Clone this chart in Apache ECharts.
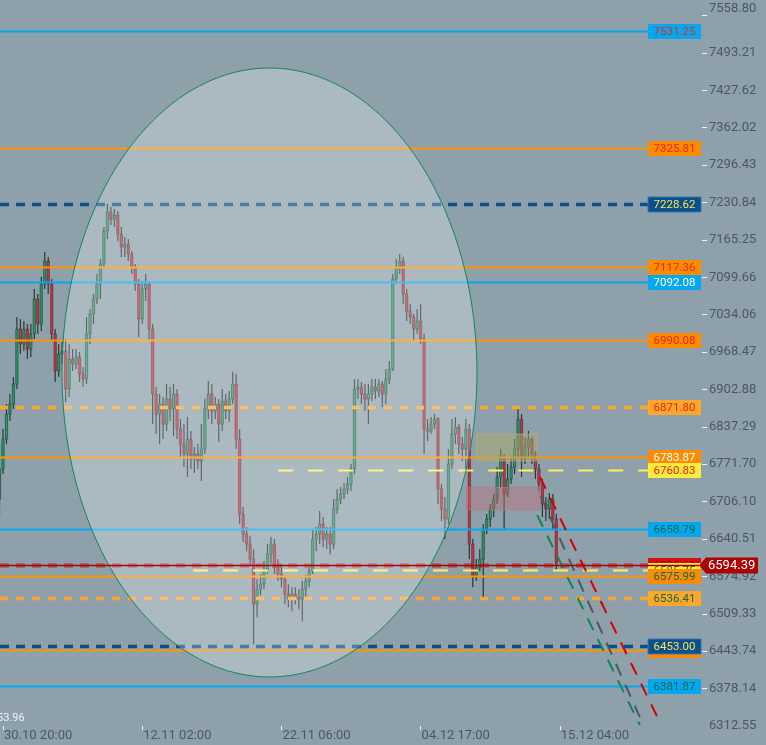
<!DOCTYPE html>
<html><head><meta charset="utf-8">
<script src="https://cdn.jsdelivr.net/npm/echarts@6/dist/echarts.min.js"></script>
<style>html,body{margin:0;padding:0;background:#8ea1aa;}#c{width:766px;height:745px;}</style>
</head><body><div id="c"></div>
<script>
// ---------- data ----------
const xLabelIdx = [1, 41, 81, 121, 161];
const xLabelText = ['30.10 20:00', '12.11 02:00', '22.11 06:00', '04.12 17:00', '15.12 04:00'];
const yTicks = [7558.80, 7493.21, 7427.62, 7362.02, 7296.43, 7230.84, 7165.25, 7099.66, 7034.06, 6968.47,
  6902.88, 6837.29, 6771.70, 6706.10, 6640.51, 6574.92, 6509.33, 6443.74, 6378.14, 6312.55];

// [open, close, low, high]
const ohlc = [
[6710.6,6763.2,6680.7,6807.1],[6763.2,6815.8,6754.4,6833.4],[6815.8,6859.7,6807.1,6877.3],[6859.7,6877.3,6847.4,6894.8],
[6877.3,6912.3,6868.5,6924.6],[6912.3,7008.8,6903.6,7029.9],[7008.8,6982.5,6965.0,7026.4],[6982.5,7008.8,6970.2,7022.9],
[7008.8,6973.8,6956.2,7017.6],[6973.8,7000.1,6959.7,7017.6],[7000.1,7061.5,6991.3,7079.0],[7061.5,7017.6,7000.1,7070.3],
[7017.6,7087.8,7005.3,7100.1],[7087.8,7128.2,7079.0,7144.0],[7128.2,7087.8,7070.3,7135.2],[7087.8,7000.1,6987.8,7096.6],
[7000.1,6935.2,6915.9,7008.8],[6935.2,6965.0,6924.6,6982.5],[6965.0,6970.2,6947.4,6986.0],[6970.2,6903.6,6880.8,6991.3],
[6903.6,6956.2,6889.5,6982.5],[6956.2,6947.4,6935.2,6973.8],[6947.4,6959.7,6938.7,6973.8],[6959.7,6929.9,6915.9,6968.5],
[6929.9,6921.1,6907.1,6942.2],[6921.1,7000.1,6912.3,7029.9],[7000.1,7035.2,6982.5,7043.9],[7035.2,7061.5,7017.6,7070.3],
[7061.5,7087.8,7052.7,7105.4],[7087.8,7122.9,7061.5,7131.7],[7122.9,7180.8,7114.1,7187.8],[7180.8,7214.1,7166.8,7228.2],
[7214.1,7201.9,7191.3,7222.9],[7201.9,7208.9,7187.8,7219.4],[7208.9,7175.5,7163.3,7215.9],[7175.5,7152.7,7135.2,7187.8],
[7152.7,7158.0,7135.2,7170.3],[7158.0,7140.5,7128.2,7166.8],[7140.5,7117.6,7105.4,7145.7],[7117.6,7087.8,7075.5,7122.9],
[7087.8,7026.4,6994.8,7096.6],[7026.4,7079.0,7017.6,7093.1],[7079.0,7087.8,7058.0,7105.4],[7087.8,7008.8,6987.8,7093.1],
[7008.8,6894.8,6842.2,7017.6],[6894.8,6859.7,6824.6,6907.1],[6859.7,6877.3,6807.1,6894.8],[6877.3,6842.2,6815.8,6889.5],
[6842.2,6886.0,6829.9,6912.3],[6886.0,6868.5,6847.4,6907.1],[6868.5,6894.8,6821.1,6912.3],[6894.8,6833.4,6815.8,6903.6],
[6833.4,6807.1,6784.2,6850.9],[6807.1,6789.5,6766.7,6842.2],[6789.5,6815.8,6749.2,6854.4],[6815.8,6780.7,6763.2,6829.9],
[6780.7,6789.5,6756.2,6801.8],[6789.5,6777.2,6763.2,6807.1],[6777.2,6798.3,6742.1,6842.2],[6798.3,6868.5,6789.5,6886.0],
[6868.5,6894.8,6850.9,6917.6],[6894.8,6865.0,6842.2,6912.3],[6865.0,6877.3,6850.9,6889.5],[6877.3,6842.2,6810.6,6886.0],
[6842.2,6882.5,6829.9,6903.6],[6882.5,6865.0,6850.9,6894.8],[6865.0,6886.0,6845.7,6900.1],[6886.0,6912.3,6877.3,6933.4],
[6912.3,6815.8,6798.3,6929.9],[6815.8,6684.2,6666.7,6833.4],[6684.2,6649.1,6635.1,6696.5],[6649.1,6631.6,6619.3,6661.4],
[6631.6,6605.3,6594.4,6645.6],[6605.3,6526.3,6456.1,6622.8],[6526.3,6552.6,6503.5,6570.2],[6552.6,6561.4,6542.1,6579.0],
[6561.4,6587.7,6552.6,6601.8],[6587.7,6614.0,6579.0,6631.6],[6614.0,6631.6,6596.5,6643.9],[6631.6,6591.2,6579.0,6640.4],
[6591.2,6579.0,6566.7,6605.3],[6579.0,6570.2,6556.1,6596.5],[6570.2,6543.9,6526.3,6573.7],[6543.9,6535.1,6521.0,6561.4],
[6535.1,6543.9,6514.0,6556.1],[6543.9,6538.6,6526.3,6556.1],[6538.6,6535.1,6517.5,6552.6],[6535.1,6552.6,6496.5,6566.7],
[6552.6,6566.7,6535.1,6577.2],[6566.7,6584.2,6556.1,6591.2],[6584.2,6640.4,6579.0,6657.9],[6640.4,6649.1,6619.3,6661.4],
[6649.1,6666.7,6631.6,6689.5],[6666.7,6640.4,6626.3,6679.0],[6640.4,6649.1,6622.8,6661.4],[6649.1,6631.6,6614.0,6661.4],
[6631.6,6693.0,6622.8,6710.6],[6693.0,6710.6,6684.2,6728.1],[6710.6,6719.3,6701.8,6731.6],[6719.3,6728.1,6710.6,6738.6],
[6728.1,6736.9,6719.3,6749.2],[6736.9,6763.2,6724.6,6772.0],[6763.2,6903.6,6754.4,6921.1],[6903.6,6907.1,6886.0,6921.1],
[6907.1,6894.8,6877.3,6915.9],[6894.8,6886.0,6865.0,6912.3],[6886.0,6894.8,6842.2,6912.3],[6894.8,6907.1,6882.5,6921.1],
[6907.1,6900.1,6886.0,6921.1],[6900.1,6912.3,6889.5,6921.1],[6912.3,6894.8,6872.0,6917.6],[6894.8,6921.1,6877.3,6938.7],
[6921.1,6938.7,6912.3,6952.7],[6938.7,7096.6,6935.2,7105.4],[7096.6,7117.6,7087.8,7131.7],[7117.6,7128.2,7105.4,7140.5],
[7128.2,7070.3,7052.7,7135.2],[7070.3,7040.4,7022.9,7079.0],[7040.4,7029.9,7017.6,7052.7],[7029.9,7008.8,6987.8,7035.2],
[7008.8,7022.9,7000.1,7043.9],[7022.9,6991.3,6982.5,7052.7],[6991.3,6833.4,6789.5,7000.1],[6833.4,6829.9,6812.3,6850.9],
[6829.9,6842.2,6824.6,6854.4],[6842.2,6850.9,6833.4,6859.7],[6850.9,6728.1,6701.8,6854.4],[6728.1,6693.0,6672.0,6736.9],
[6693.0,6675.5,6640.4,6714.1],[6675.5,6772.0,6666.7,6798.3],[6772.0,6824.6,6763.2,6850.9],[6824.6,6836.9,6807.1,6854.4],
[6836.9,6807.1,6789.5,6842.2],[6807.1,6798.3,6777.2,6819.3],[6798.3,6833.4,6763.2,6850.9],[6833.4,6631.6,6605.3,6842.2],
[6631.6,6573.7,6556.1,6640.4],[6573.7,6591.2,6566.7,6605.3],[6591.2,6605.3,6584.2,6622.8],[6605.3,6657.9,6538.6,6666.7],
[6657.9,6675.5,6649.1,6684.2],[6675.5,6693.0,6661.4,6701.8],[6693.0,6710.6,6679.0,6719.3],[6710.6,6749.2,6701.8,6766.7],
[6749.2,6780.7,6731.6,6798.3],[6780.7,6719.3,6657.9,6789.5],[6719.3,6745.6,6714.1,6772.0],[6745.6,6766.7,6736.9,6784.2],
[6766.7,6798.3,6754.4,6815.8],[6798.3,6850.9,6784.2,6868.5],[6850.9,6780.7,6749.2,6859.7],[6780.7,6801.8,6772.0,6819.3],
[6801.8,6815.8,6784.2,6829.9],[6815.8,6789.5,6772.0,6819.3],[6789.5,6763.2,6745.6,6794.8],[6763.2,6736.9,6724.6,6772.0],
[6736.9,6701.8,6679.0,6745.6],[6701.8,6693.0,6672.0,6714.1],[6693.0,6710.6,6675.5,6721.1],[6710.6,6675.5,6657.9,6719.3],
[6675.5,6594.39,6584.2,6684.2]
];

// price levels (drawn in this order)
const levelPrices = [7531.25, 7325.81, 7228.62, 7117.36, 7092.08, 6990.08, 6871.80, 6783.87, 6760.83, 6658.79,
  6595.69, 6585.75, 6575.99, 6536.41, 6446.00, 6453.00, 6381.87];
const levelStarts = [null, null, null, null, null, null, null, null, 80.1, null,
  null, 55.6, null, null, null, null, null];
const levelKinds = ['blue', 'orange', 'navy', 'orange', 'blue', 'orange', 'orangeDash', 'orange', 'yellow', 'blue',
  'red', 'yellow', 'orange', 'orangeDash', 'orange', 'navy', 'blue'];
const levelLabels = ['7531.25', '7325.81', '7228.62', '7117.36', '7092.08', '6990.08', '6871.80', '6783.87', '6760.83', '6658.79',
  '6595.69', '6585.75', '6575.99', '6536.41', '', '6453.00', '6381.87'];
const levelInk = ['red', 'red', 'yellow', 'red', 'white', 'red', 'red', 'white', 'red', 'green',
  'darkred', 'green', 'green', 'green', 'white', 'yellow', 'green'];

const currentPrice = 6594.39;
const ellipseBox = [17.95, 7466.7, 137.2, 6398.5];
const zones = [[137.1, 6824.6, 154.4, 6777.8], [134.2, 6731.1, 155.3, 6691.8]];
const projRed = [[155.3, 6749.2], [189.2, 6326.3]];
const projGray = [[155.5, 6716.3], [184.0, 6328.0]];
const projGreen = [[154.5, 6682.5], [184.0, 6314.0]];

// ---------- styles ----------
const X_MIN = 0.14, X_MAX = 201.86;
const kindStyle = {
  blue: {line: '#05a8f0', w: 2, dash: null, box: '#05a8f0'},
  orange: {line: '#ff9300', w: 2, dash: null, box: '#ff8c00'},
  orangeDash: {line: '#ffa62b', w: 3.5, dash: [8, 8], box: '#ffa62b'},
  navy: {line: '#0a4f8e', w: 3.5, dash: [9, 7], box: '#0a4f8e', border: '#3c74ad'},
  yellow: {line: '#fff059', w: 2, dash: [15, 15], box: '#ffeb3b'},
  red: {line: 'rgba(210,0,10,0.5)', w: 4.5, dash: [9, 7], box: '#d01212'}
};
const inkColor = {red: '#e8261c', yellow: '#ffe44d', white: '#ffffff', green: '#0e6b4a', darkred: '#a30000'};
const WICK = '#2b3439', UP = '#17a35f', DOWN = '#e3283a';

const chart = echarts.init(document.getElementById('c'));

function renderCandle(params, api) {
  const i = api.value(0), o = api.value(1), c = api.value(2), l = api.value(3), h = api.value(4);
  const pO = api.coord([i, o]), pC = api.coord([i, c]), pL = api.coord([i, l]), pH = api.coord([i, h]);
  const w = api.size([1, 0])[0] * 0.66;
  const x = pO[0];
  const top = Math.min(pO[1], pC[1]);
  const hgt = Math.max(1, Math.abs(pO[1] - pC[1]));
  return {type: 'group', children: [
    {type: 'line', shape: {x1: x, y1: pH[1], x2: x, y2: pL[1]}, style: {stroke: WICK, lineWidth: 1.2}},
    {type: 'rect', shape: {x: x - w / 2, y: top, width: w, height: hgt},
      style: {fill: c >= o ? UP : DOWN, stroke: WICK, lineWidth: 0.6}}
  ]};
}

function renderLevel(params, api) {
  const i = params.dataIndex;
  const cs = params.coordSys;
  const right = cs.x + cs.width;
  const boxW = 53, boxH = 15;
  const p = api.coord([api.value(0), api.value(1)]);
  const y = Math.round(p[1]) + 0.5;
  const st = kindStyle[levelKinds[i]];
  const bx = right - boxW - 1;
  const ch = [
    {type: 'line', shape: {x1: p[0], y1: y, x2: bx, y2: y},
      style: {stroke: st.line, lineWidth: st.w, lineDash: st.dash || null}},
    {type: 'rect', shape: {x: bx, y: y - boxH / 2, width: boxW, height: boxH},
      style: {fill: st.box, stroke: st.border || null, lineWidth: 1}}
  ];
  if (levelLabels[i]) {
    ch.push({type: 'text', style: {text: levelLabels[i], x: bx + boxW / 2, y: y + 0.5,
      align: 'center', verticalAlign: 'middle', textAlign: 'center', textVerticalAlign: 'middle',
      fill: inkColor[levelInk[i]], font: '11.5px Roboto'}});
  }
  return {type: 'group', children: ch};
}

function renderZone(params, api) {
  const a = api.coord([api.value(0), api.value(1)]);
  const b = api.coord([api.value(2), api.value(3)]);
  const fills = ['rgba(172,172,110,0.5)', 'rgba(186,112,122,0.45)'];
  const strokes = ['rgba(176,176,120,0.8)', 'rgba(186,120,130,0.7)'];
  return {type: 'rect', shape: {x: a[0], y: a[1], width: b[0] - a[0], height: b[1] - a[1]},
    style: {fill: fills[params.dataIndex], stroke: strokes[params.dataIndex], lineWidth: 1}};
}

function renderEllipse(params, api) {
  const a = api.coord([api.value(0), api.value(1)]);
  const b = api.coord([api.value(2), api.value(3)]);
  const cx = (a[0] + b[0]) / 2, cy = (a[1] + b[1]) / 2;
  const rx = Math.abs(b[0] - a[0]) / 2, ry = Math.abs(b[1] - a[1]) / 2;
  const pts = [];
  for (let k = 0; k < 180; k++) {
    const t = k / 180 * Math.PI * 2;
    pts.push([cx + rx * Math.cos(t), cy + ry * Math.sin(t)]);
  }
  return {type: 'polygon', shape: {points: pts},
    style: {fill: 'rgba(255,255,255,0.26)', stroke: '#14845d', lineWidth: 1}};
}

function renderTag(params, api) {
  const cs = params.coordSys;
  const right = cs.x + cs.width;
  const p = api.coord([X_MIN, api.value(1)]);
  const y = Math.round(p[1]) + 0.5;
  const tip = right - 3;
  return {type: 'group', children: [
    {type: 'line', shape: {x1: cs.x, y1: y, x2: tip, y2: y}, style: {stroke: '#a80000', lineWidth: 1.5}},
    {type: 'polygon', shape: {points: [[tip, y], [tip + 7, y - 8], [758, y - 8], [758, y + 8], [tip + 7, y + 8]]},
      style: {fill: '#ad0000'}},
    {type: 'text', style: {text: currentPrice.toFixed(2), x: tip + 9, y: y + 0.5,
      align: 'left', verticalAlign: 'middle', textAlign: 'left', textVerticalAlign: 'middle',
      fill: '#ffffff', font: '13px Roboto'}}
  ]};
}

const axisInk = '#4b5760';

chart.setOption({
  backgroundColor: '#8ea1aa',
  animation: false,
  grid: {left: 0, right: 64, top: 0, bottom: 19},
  xAxis: {
    type: 'value', min: X_MIN, max: X_MAX,
    axisLine: {show: false}, splitLine: {show: false},
    axisTick: {show: true, customValues: xLabelIdx, length: 4, lineStyle: {color: '#f2f2f2', width: 1}},
    axisLabel: {customValues: xLabelIdx, formatter: v => xLabelText[xLabelIdx.indexOf(v)] || '',
      align: 'left', padding: [0, 0, 0, 1], margin: 3, color: axisInk, fontSize: 13, fontFamily: 'Roboto'}
  },
  yAxis: {
    type: 'value', position: 'right', min: 6312.55, max: 7586, scale: true,
    axisLine: {show: false}, splitLine: {show: false},
    axisTick: {show: true, customValues: yTicks.slice(0, yTicks.length - 1), length: 5,
      lineStyle: {color: '#f2f2f2', width: 1}},
    axisLabel: {customValues: yTicks, formatter: v => v.toFixed(2), margin: 7,
      color: axisInk, fontSize: 13, fontFamily: 'Roboto', verticalAlignMinLabel: 'bottom'}
  },
  graphic: [{type: 'text', left: -3, top: 713, z: 10,
    style: {text: '53.96', fill: '#eef2f4', font: '11px Roboto'}}],
  series: [
    {type: 'custom', name: 'candles', z: 2, renderItem: renderCandle,
      encode: {x: 0, y: [1, 2, 3, 4]}, data: ohlc.map((d, i) => [i, d[0], d[1], d[2], d[3]])},
    {type: 'custom', name: 'levels', z: 3, clip: false, renderItem: renderLevel,
      encode: {x: 0, y: 1}, data: levelPrices.map((p, i) => [levelStarts[i] == null ? X_MIN : levelStarts[i], p])},
    {type: 'custom', name: 'zones', z: 4, renderItem: renderZone,
      encode: {x: [0, 2], y: [1, 3]}, data: zones},
    {type: 'line', name: 'projRed', z: 4, data: projRed, showSymbol: false, symbol: 'none',
      lineStyle: {color: '#d40000', width: 2, type: [13, 10]}},
    {type: 'line', name: 'projGray', z: 4, data: projGray, showSymbol: false, symbol: 'none',
      lineStyle: {color: '#4b585f', width: 2, type: [13, 10]}},
    {type: 'line', name: 'projGreen', z: 4, data: projGreen, showSymbol: false, symbol: 'none',
      lineStyle: {color: '#0f8458', width: 2, type: [13, 10]}},
    {type: 'custom', name: 'ellipse', z: 5, renderItem: renderEllipse,
      encode: {x: [0, 2], y: [1, 3]}, data: [ellipseBox]},
    {type: 'custom', name: 'price', z: 6, clip: false, renderItem: renderTag,
      encode: {x: 0, y: 1}, data: [[X_MIN, currentPrice]]}
  ]
});
</script></body></html>
